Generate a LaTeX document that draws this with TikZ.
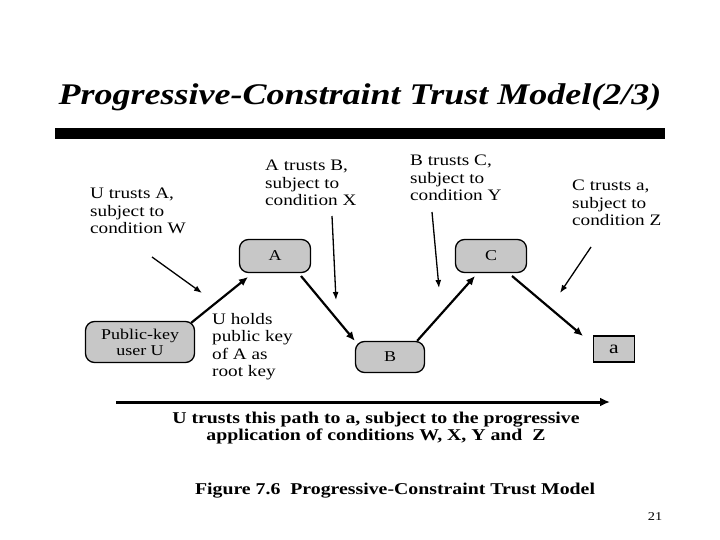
\documentclass[tikz,border=0pt]{standalone}
\usepackage{fontspec}
\setmainfont[FakeStretch=1.2]{Liberation Serif}
\usetikzlibrary{arrows.meta}
\begin{document}
\begin{tikzpicture}[x=1pt,y=-1pt,
 box/.style={draw,line width=1.3pt,fill=black!22,rounded corners=9pt,inner sep=0pt},
 lab/.style={align=left,anchor=north west,inner sep=0pt,font=\fontsize{16}{17.5}\selectfont},
 link/.style={line width=2.2pt,-{Latex[length=9pt,width=8pt]}},
 cond/.style={line width=1.3pt,-{Latex[length=8pt,width=6pt]}}]
\useasboundingbox (0,0) rectangle (720,540);
\node[font=\fontsize{30}{34}\bfseries\itshape\selectfont] (title) at (360,97) {Progressive-Constraint Trust Model(2/3)};
\fill (55,128) rectangle (665,139);
\node[box,minimum width=109pt,minimum height=41pt,align=center,font=\fontsize{15}{16}\selectfont] (U) at (140,342) {Public-key\\user U};
\node[box,minimum width=71pt,minimum height=33pt,font=\fontsize{15}{16}\selectfont] (A) at (275,256) {A};
\node[box,minimum width=71pt,minimum height=33pt,font=\fontsize{15}{16}\selectfont] (C) at (491,256) {C};
\node[box,minimum width=69pt,minimum height=31pt,font=\fontsize{15}{16}\selectfont] (B) at (390,357) {B};
\node[draw,line width=1.3pt,fill=black!22,minimum width=41pt,minimum height=26pt,inner sep=0pt,font=\fontsize{18}{18}\selectfont] (a) at (614,349) {a};
\node[lab] (tW) at (90,188) {U trusts A,\\subject to\\condition W};
\node[lab] (tX) at (265,160) {A trusts B,\\subject to\\condition X};
\node[lab] (tY) at (410,155) {B trusts C,\\subject to\\condition Y};
\node[lab] (tZ) at (572,180) {C trusts a,\\subject to\\condition Z};
\node[lab] (tU) at (212,313) {U holds\\public key\\of A as\\root key};
\coordinate (w0) at (152,257); \coordinate (w1) at (202,293);
\coordinate (x0) at (332,216); \coordinate (x1) at (336,300);
\coordinate (y0) at (432,212); \coordinate (y1) at (439,288);
\coordinate (z0) at (591,247); \coordinate (z1) at (560,293);
\draw[cond] (w0) -- (w1);
\draw[cond] (x0) -- (x1);
\draw[cond] (y0) -- (y1);
\draw[cond] (z0) -- (z1);
\draw[link] (U.north east) ++(-4,2) -- (248,277);
\draw[link] (301,276) -- (B.north west);
\draw[link] (B.north east) ++(-8,0) -- (475,276);
\draw[link] (512,276) -- (583,336);
\coordinate (p0) at (116,402); \coordinate (p1) at (610,402);
\draw[line width=3pt,-{Latex[length=10pt,width=9pt]}] (p0) -- (p1);
\node[font=\fontsize{16.5}{17}\bfseries\selectfont,align=center] (path) at (376,428) {U trusts this path to a, subject to the progressive\\application of conditions W, X, Y and\ \ Z};
\node[font=\fontsize{16.5}{17}\bfseries\selectfont] (fig) at (395,491) {Figure 7.6\ \ Progressive-Constraint Trust Model};
\node[font=\fontsize{12}{12}\selectfont] (num) at (655,517) {21};
\end{tikzpicture}
\end{document}
